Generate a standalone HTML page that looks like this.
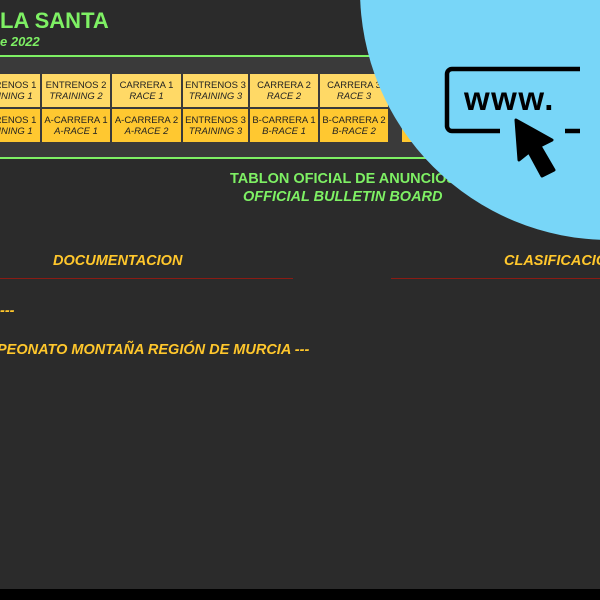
<!DOCTYPE html>
<html><head><meta charset="utf-8"><style>
*{margin:0;padding:0;box-sizing:border-box}
html,body{width:600px;height:600px;overflow:hidden}
body{background:#2b2b2b;font-family:"Liberation Sans",sans-serif;position:relative}
.a{position:absolute;white-space:nowrap}
.btn{position:absolute;height:33px;font-size:9.5px;line-height:11px;color:#222;text-align:center;padding-top:6px;overflow:hidden}
.btn i{display:block}
.r1{background:#ffd966;top:74px}
.r2{background:#ffc830;top:109px}
.g{color:#7ef064;font-weight:bold}
.y{color:#ffc72c;font-weight:bold;font-style:italic}
</style></head><body>
<div class="a g" style="left:0;top:8px;font-size:22px">LA SANTA</div>
<div class="a g" style="left:0;top:34px;font-size:13px;font-style:italic">e 2022</div>
<div class="a" style="left:0;top:55px;width:600px;height:2px;background:#7ef064"></div>
<div class="a" style="left:0;top:57px;width:600px;height:100px;background:#3a3a3a"></div>
<div class="a" style="left:0;top:157px;width:600px;height:2px;background:#7ef064"></div>

<div class="btn r1" style="left:-28px;width:68px">ENTRENOS 1<i>TRAINING 1</i></div>
<div class="btn r1" style="left:42px;width:68px">ENTRENOS 2<i>TRAINING 2</i></div>
<div class="btn r1" style="left:112px;width:69px">CARRERA 1<i>RACE 1</i></div>
<div class="btn r1" style="left:183px;width:65px">ENTRENOS 3<i>TRAINING 3</i></div>
<div class="btn r1" style="left:250px;width:68px">CARRERA 2<i>RACE 2</i></div>
<div class="btn r1" style="left:320px;width:68px">CARRERA 3<i>RACE 3</i></div>
<div class="btn r2" style="left:-28px;width:68px">ENTRENOS 1<i>TRAINING 1</i></div>
<div class="btn r2" style="left:42px;width:68px">A-CARRERA 1<i>A-RACE 1</i></div>
<div class="btn r2" style="left:112px;width:69px">A-CARRERA 2<i>A-RACE 2</i></div>
<div class="btn r2" style="left:183px;width:65px">ENTRENOS 3<i>TRAINING 3</i></div>
<div class="btn r2" style="left:250px;width:68px">B-CARRERA 1<i>B-RACE 1</i></div>
<div class="btn r2" style="left:320px;width:68px">B-CARRERA 2<i>B-RACE 2</i></div>
<div class="btn r2" style="left:402px;width:60px"></div>

<div class="a g" style="left:230px;top:171px;font-size:14.5px">TABLON OFICIAL DE ANUNCIOS</div>
<div class="a g" style="left:243px;top:189px;font-size:14.5px;font-style:italic">OFFICIAL BULLETIN BOARD</div>

<div class="a y" style="left:53px;top:253px;font-size:14.5px">DOCUMENTACION</div>
<div class="a" style="left:0;top:278px;width:293px;height:1px;background:#8a1c14"></div>
<div class="a y" style="left:504px;top:253px;font-size:14.5px">CLASIFICACIONES</div>
<div class="a" style="left:391px;top:278px;width:209px;height:1px;background:#8a1c14"></div>
<div class="a y" style="left:0;top:303px;font-size:14.5px">---</div>
<div class="a y" style="left:-3px;top:342px;font-size:14.5px">PEONATO MONTAÑA REGIÓN DE MURCIA ---</div>

<svg class="a" style="left:0;top:0" width="600" height="600">
<circle cx="610" cy="-10" r="250" fill="#78d6f8"/>
<path d="M580 69 H452 a5 5 0 0 0 -5 5 V126 a5 5 0 0 0 5 5 H500" fill="none" stroke="#000" stroke-width="4.5"/>
<path d="M565 131 H580" stroke="#000" stroke-width="4.5"/>
<text x="464" y="110" font-family="Liberation Sans,sans-serif" font-weight="bold" font-size="33" fill="#000" letter-spacing="1.5">www.</text>
<path d="M516 120 L552 140 L540 146 L554 170 L542 176 L529 152 L519 160 Z" fill="#000" stroke="#000" stroke-width="3" stroke-linejoin="round"/>
</svg>
<div class="a" style="left:0;top:589px;width:600px;height:11px;background:#000"></div>
</body></html>
